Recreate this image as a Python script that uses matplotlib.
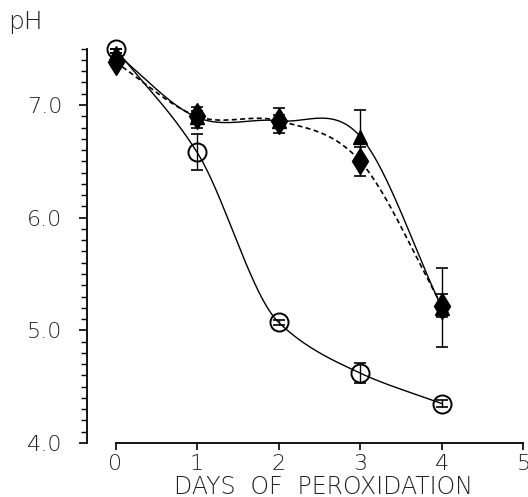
import numpy as np
import matplotlib
matplotlib.use("Agg")
import matplotlib.pyplot as plt
from matplotlib.ticker import MultipleLocator, FormatStrFormatter

# 数据：过氧化天数与 pH
days = [0, 1, 2, 3, 4]
ph_circle = [7.50, 6.58, 5.07, 4.62, 4.35]
err_circle = [0.0, 0.16, 0.02, 0.09, 0.03]
ph_triangle = [7.46, 6.89, 6.86, 6.72, 5.20]
err_triangle = [0.0, 0.09, 0.11, 0.24, 0.35]
ph_diamond = [7.38, 6.90, 6.86, 6.50, 5.22]
err_diamond = [0.0, 0.05, 0.05, 0.13, 0.10]


def hermite(x, y, m, n=200):
    # 三次 Hermite 曲线，m 为各点斜率
    x = np.asarray(x, float)
    y = np.asarray(y, float)
    h = np.diff(x)
    xs = np.linspace(x[0], x[-1], n)
    idx = np.clip(np.searchsorted(x, xs) - 1, 0, len(x) - 2)
    t = (xs - x[idx]) / h[idx]
    h00 = 2 * t**3 - 3 * t**2 + 1
    h10 = t**3 - 2 * t**2 + t
    h01 = -2 * t**3 + 3 * t**2
    h11 = t**3 - t**2
    ys = h00 * y[idx] + h10 * h[idx] * m[idx] + h01 * y[idx + 1] + h11 * h[idx] * m[idx + 1]
    return xs, ys


def pchip_slopes(x, y):
    d = np.diff(y) / np.diff(x)
    m = np.zeros(len(y))
    for i in range(1, len(y) - 1):
        if d[i - 1] * d[i] > 0:
            m[i] = 2.0 / (1.0 / d[i - 1] + 1.0 / d[i])
    m[0], m[-1] = d[0], d[-1]
    return m


def cr_slopes(x, y):
    # Catmull-Rom 中心差分
    x = np.asarray(x, float)
    y = np.asarray(y, float)
    m = np.gradient(y, x)
    m[0] = (y[1] - y[0]) / (x[1] - x[0])
    m[-1] = (y[-1] - y[-2]) / (x[-1] - x[-2])
    return m


plt.rcParams['font.family'] = ['DejaVu Sans']

fig = plt.figure(figsize=(5.28, 4.97), dpi=100)
W, H = 528, 497
px_left, px_right = 87, 526
px_top, px_bot = 48, 443
ax = fig.add_axes([px_left / W, 1 - px_bot / H, (px_right - px_left) / W, (px_bot - px_top) / H])

x0_px, xunit = 115.5, 81.6
ax.set_xlim((px_left - x0_px) / xunit, (px_right - x0_px) / xunit)
yunit = (443 - 105) / 3.0
ax.set_ylim(4.0, 4.0 + (px_bot - px_top) / yunit)

# 曲线
xs, ys = hermite(days, ph_circle, pchip_slopes(days, ph_circle))
ax.plot(xs, ys, color='black', lw=1.0, clip_on=False)
xs, ys = hermite(days, ph_triangle, cr_slopes(days, ph_triangle))
ax.plot(xs, ys, color='black', lw=1.0, clip_on=False)
xs, ys = hermite(days, ph_diamond, cr_slopes(days, ph_diamond))
ax.plot(xs, ys, color='black', lw=1.2, ls=(0, (3, 2)), clip_on=False)

# 误差棒和标记
ekw = dict(fmt='none', ecolor='black', elinewidth=1.0, capsize=4.5, capthick=1.2, clip_on=False)
ax.errorbar(days, ph_diamond, yerr=err_diamond, **ekw)
ax.errorbar(days, ph_triangle, yerr=err_triangle, **ekw)
ax.errorbar(days, ph_circle, yerr=err_circle, **ekw)
ax.plot(days, ph_diamond, ls='none', marker='d', ms=13, mfc='black', mec='black', clip_on=False)
ax.plot(days, ph_triangle, ls='none', marker='^', ms=10, mfc='black', mec='black', clip_on=False)
ax.plot(days, ph_circle, ls='none', marker='o', ms=13, mfc='none', mec='black', mew=1.4, clip_on=False)

# 坐标轴样式
for s in ['top', 'right']:
    ax.spines[s].set_visible(False)
ax.spines['left'].set_bounds(4.0, 7.5)
ax.spines['bottom'].set_bounds(0, 5)
ax.spines['left'].set_linewidth(1.3)
ax.spines['bottom'].set_linewidth(1.3)

ax.yaxis.set_major_locator(MultipleLocator(1.0))
ax.yaxis.set_minor_locator(MultipleLocator(0.1))
ax.yaxis.set_major_formatter(FormatStrFormatter('%.1f'))
ax.set_xticks(days + [5])
ax.tick_params(axis='y', which='major', direction='out', length=6, width=1.2, pad=12,
               labelsize=16)
ax.tick_params(axis='y', which='minor', direction='out', length=4, width=1.0)
ax.tick_params(axis='x', which='major', direction='out', length=5, width=1.2, pad=3,
               labelsize=16)
for lab in ax.get_xticklabels() + ax.get_yticklabels():
    lab.set_fontweight('light')
    lab.set_color('#222222')

# x 轴标题放在 0~5 的中间
fig.text((x0_px + 2.55 * xunit) / W, 3 / H, 'DAYS  OF  PEROXIDATION', ha='center', va='baseline',
         fontsize=17, fontweight='light', color='#222222')

fig.text(8 / W, 1 - 29 / H, 'pH', fontsize=18, fontweight='light', color='#222222')

fig.savefig('out.png', dpi=100)
